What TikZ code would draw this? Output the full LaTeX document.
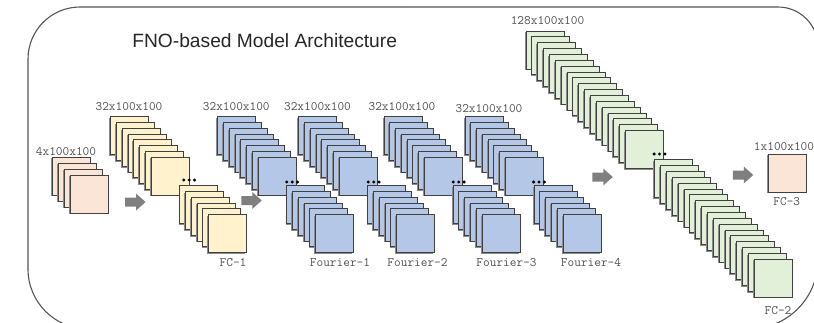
\documentclass[tikz,border=0pt]{standalone}
\usepackage{fontspec}
\setmainfont{Liberation Sans}

\definecolor{framecol}{HTML}{555555}
\definecolor{pinkfill}{HTML}{FBE5D6}
\definecolor{yellowfill}{HTML}{FFF2CC}
\definecolor{bluefill}{HTML}{B4C7E7}
\definecolor{greenfill}{HTML}{E2F0D9}
\definecolor{edgecol}{HTML}{404040}
\definecolor{shadecol}{HTML}{8C8C8C}
\definecolor{arrowcol}{HTML}{7F7F7F}
\definecolor{labelcol}{HTML}{505050}
\definecolor{titlecol}{HTML}{262626}

\tikzset{
  frame/.style={draw=framecol, line width=1.1pt},
  sheet/.style={draw=edgecol, line width=0.8pt},
  sheetshadow/.style={fill=shadecol},
  dimlabel/.style={font=\ttfamily\fontsize{12.95}{14}\selectfont, text=labelcol, inner sep=0pt},
  titletext/.style={font=\fontsize{19.2}{22}\selectfont, text=titlecol, inner sep=0pt},
  blockarrow/.pic={
    \fill[arrowcol] (-10.25,-4.5) -- (0.75,-4.5) -- (0.75,-8.5) -- (10.25,0)
      -- (0.75,8.5) -- (0.75,4.5) -- (-10.25,4.5) -- cycle;
  }
}

% a stack of feature-map sheets: x0, y0, step, fill colour, sheet indices
\newcommand\sheetstack[5]{%
  \foreach \i in {#5} {
    \fill[sheetshadow] ({#1+\i*#3-1.3},{#2+\i*#3+1.3}) rectangle ++(38,38);
    \filldraw[sheet, fill=#4] ({#1+\i*#3},{#2+\i*#3}) rectangle ++(38,38);
  }}

% the three dots marking omitted sheets
\newcommand\ellipsisdots[2]{%
  \foreach \d in {-5.4,0,5.4} { \fill[black] ({#1+\d},#2) circle (1.65); }}

\begin{document}
\begin{tikzpicture}[x=1pt, y=-1pt]
  \useasboundingbox (0,0) rectangle (814,322);
  \clip (0,0) rectangle (814,322);

  % outer frame, one rounded corner at a time
  \draw[frame, rounded corners=52] (28,150) -- (28,7) -- (400,7);
  \draw[frame, rounded corners=40] (400,7) -- (818,7) -- (818,150);
  \draw[frame, rounded corners=69] (818,150) -- (818,329) -- (400,329);
  \draw[frame, rounded corners=60] (400,329) -- (28,329) -- (28,150);

  \node[titletext] (title) at (264.7,40.8) {FNO-based Model Architecture};

  % input
  \sheetstack{52.3}{157}{6}{pinkfill}{0,...,3}
  \node[dimlabel] (in-dim) at (66,151.5) {4x100x100};

  % FC-1
  \sheetstack{110.7}{116.7}{5.76}{yellowfill}{0,...,7,12,13,...,17}
  \ellipsisdots{189.2}{180}
  \node[dimlabel] (fc1-dim) at (129,106.7) {32x100x100};
  \node[dimlabel] (fc1) at (233,262.3) {FC-1};

  % Fourier layers
  \sheetstack{217.7}{116.7}{5.76}{bluefill}{0,...,7,12,13,...,17}
  \ellipsisdots{292.2}{182}
  \node[dimlabel] (f1-dim) at (236.3,106.7) {32x100x100};
  \node[dimlabel] (f1) at (340,262.7) {Fourier-1};

  \sheetstack{298.7}{116.7}{5.76}{bluefill}{0,...,7,12,13,...,17}
  \ellipsisdots{373.7}{182}
  \node[dimlabel] (f2-dim) at (317.5,106.7) {32x100x100};
  \node[dimlabel] (f2) at (417.5,262.7) {Fourier-2};

  \sheetstack{384}{116.7}{5.76}{bluefill}{0,...,7,12,13,...,17}
  \ellipsisdots{458.7}{182}
  \node[dimlabel] (f3-dim) at (402,106.2) {32x100x100};
  \node[dimlabel] (f3) at (506.5,262.7) {Fourier-3};

  \sheetstack{465}{116.7}{5.76}{bluefill}{0,...,7,12,13,...,17}
  \ellipsisdots{539}{182}
  \node[dimlabel] (f4-dim) at (489,109) {32x100x100};
  \node[dimlabel] (f4) at (591,262.7) {Fourier-4};

  % FC-2
  \sheetstack{526}{31}{5.85}{greenfill}{0,...,17,22,23,...,39}
  \ellipsisdots{659.5}{154}
  \node[dimlabel] (fc2-dim) at (547.5,21) {128x100x100};
  \node[dimlabel] (fc2) at (778,311) {FC-2};

  % FC-3 output
  \sheetstack{768.5}{154}{0}{pinkfill}{0}
  \node[dimlabel] (fc3-dim) at (784,146.7) {1x100x100};
  \node[dimlabel] (fc3) at (786.7,201.7) {FC-3};

  % block arrows between stages
  \pic (arr1) at (135.3,202) {blockarrow};
  \pic (arr2) at (251.5,200.5) {blockarrow};
  \pic (arr3) at (602.5,177) {blockarrow};
  \pic (arr4) at (743,175) {blockarrow};
\end{tikzpicture}
\end{document}
